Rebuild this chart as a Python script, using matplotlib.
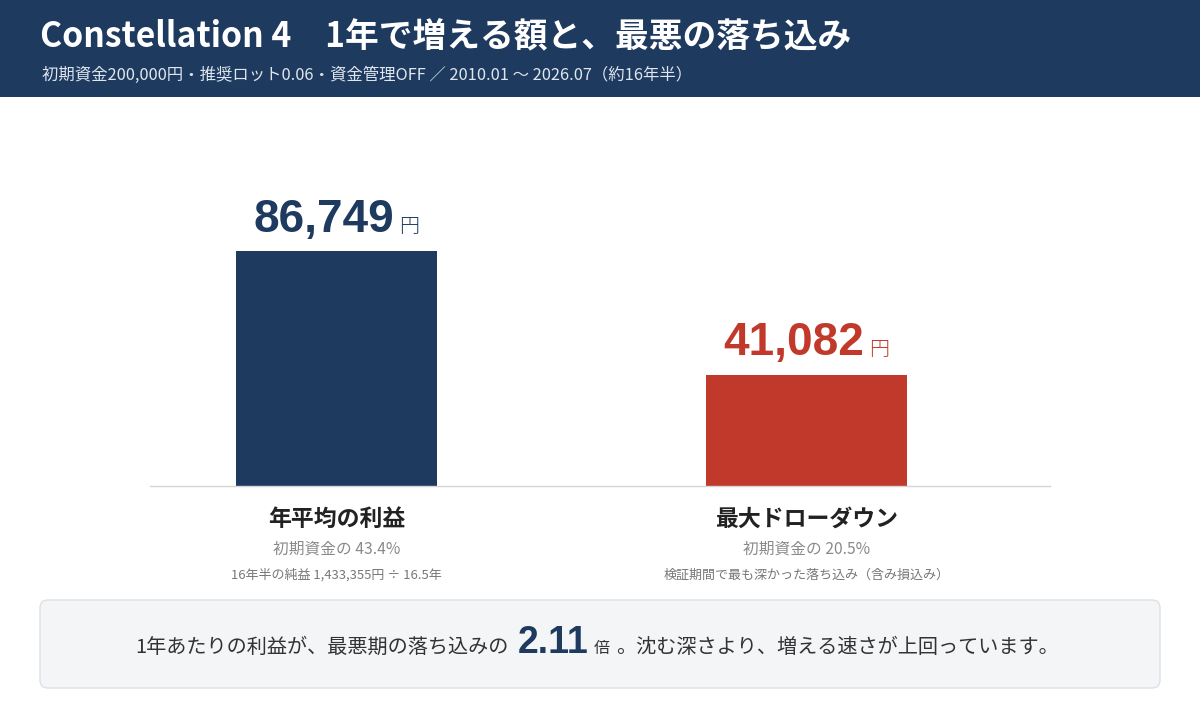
import matplotlib
matplotlib.use("Agg")
import matplotlib.pyplot as plt
from matplotlib.patches import Rectangle, FancyBboxPatch
from matplotlib.transforms import IdentityTransform, blended_transform_factory

plt.rcParams['font.family'] = ['Noto Sans CJK JP', 'DejaVu Sans']

# ---- data ----
categories = ["年平均の利益", "最大ドローダウン"]
values = [86749, 41082]
value_labels = ["86,749", "41,082"]
sub_labels = ["初期資金の 43.4%", "初期資金の 20.5%"]
note_labels = ["16年半の純益 1,433,355円 ÷ 16.5年", "検証期間で最も深かった落ち込み（含み損込み）"]
ratio_label = "2.11"
title = "Constellation 4　1年で増える額と、最悪の落ち込み"
subtitle = "初期資金200,000円・推奨ロット0.06・資金管理OFF ／ 2010.01 〜 2026.07（約16年半）"

NAVY = "#1e3a5f"
RED = "#c0392b"
colors = [NAVY, RED]

W, H = 1200, 720
fig = plt.figure(figsize=(12, 7.2), dpi=100)
fig.patch.set_facecolor("white")

# header band
fig.patches.append(Rectangle((0, 1 - 97 / H), 1, 97 / H, transform=fig.transFigure,
                             facecolor=NAVY, edgecolor="none", zorder=0))
fig.text(40 / W, 1 - 37 / H, title, color="white", fontsize=24.3, fontweight="bold",
         va="center", ha="left")
fig.text(42 / W, 1 - 75 / H, subtitle, color="#dfe6ee", fontsize=11.8,
         va="center", ha="left")

# axes
ax = fig.add_axes([150 / W, (H - 486) / H, 900 / W, (486 - 130) / H])
x = list(range(len(categories)))
ax.bar(x, values, width=0.428, color=colors, zorder=2)
ax.set_xlim(-0.397, 1.518)
ax.set_ylim(0, 131400)
for s in ["top", "right", "left"]:
    ax.spines[s].set_visible(False)
ax.spines["bottom"].set_color("#d5d5d5")
ax.spines["bottom"].set_linewidth(1.0)
ax.set_xticks([])
ax.set_yticks([])
ax.patch.set_alpha(0)

fig.canvas.draw()
renderer = fig.canvas.get_renderer()

def text_width(t):
    return t.get_window_extent(renderer).width

# value labels: number + 円 centered over each bar
for xi, v, lab, c in zip(x, values, value_labels, colors):
    t1 = ax.annotate(lab, (xi, v), xytext=(0, 14), textcoords="offset points",
                     ha="left", va="baseline", fontsize=33, fontweight="bold",
                     color=c, family="Liberation Sans")
    t2 = ax.annotate("円", (xi, v), xytext=(0, 14), textcoords="offset points",
                     ha="left", va="baseline", fontsize=14.5, color=c, fontweight="light")
    w1 = text_width(t1)
    w2 = text_width(t2)
    gap = 5
    total = w1 + gap + w2
    start_px = -total / 2
    t1.set_position((start_px * 72 / 100, 14))
    t2.set_position(((start_px + w1 + gap) * 72 / 100, 14))

# labels under axis
trans = blended_transform_factory(ax.transData, fig.transFigure)
for xi, cat, sl, nl in zip(x, categories, sub_labels, note_labels):
    fig.text(xi, 1 - 519 / H, cat, transform=trans, ha="center", va="center",
             fontsize=16.5, fontweight="bold", color="#222222")
    fig.text(xi, 1 - 549 / H, sl, transform=trans, ha="center", va="center",
             fontsize=11.3, color="#8a8a8a")
    fig.text(xi, 1 - 575 / H, nl, transform=trans, ha="center", va="center",
             fontsize=9.4, color="#777777")

# bottom box
box = FancyBboxPatch((40, H - 688), 1120, 88, boxstyle="round,pad=0,rounding_size=8",
                     transform=IdentityTransform(), facecolor="#f3f5f7",
                     edgecolor="#dde1e6", linewidth=1.0, zorder=0)
fig.patches.append(box)

pieces = [
    ("1年あたりの利益が、最悪期の落ち込みの", dict(fontsize=14.5, color="#333333"), 0),
    (ratio_label, dict(fontsize=27, fontweight="bold", color=NAVY, family="Liberation Sans"), 9),
    ("倍", dict(fontsize=11.5, color="#333333"), 6),
    ("。沈む深さより、増える速さが上回っています。", dict(fontsize=14.5, color="#333333"), 6),
]
ybase = 653
texts = []
for s, kw, g in pieces:
    t = fig.text(0, 0, s, transform=IdentityTransform(), ha="left", va="baseline", **kw)
    texts.append((t, g))
widths = [text_width(t) for t, g in texts]
total = sum(widths) + sum(g for _, g in texts)
cur = 597 - total / 2
for (t, g), w in zip(texts, widths):
    cur += g
    t.set_position((cur, H - ybase))
    cur += w

fig.savefig("out.png", dpi=100, facecolor="white")
